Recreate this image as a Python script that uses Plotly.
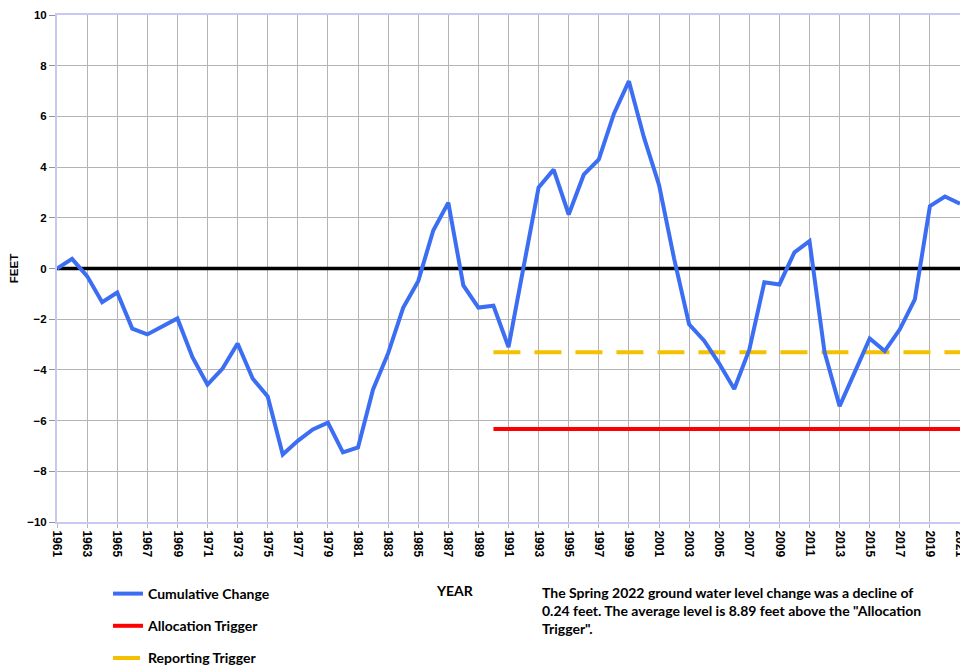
import plotly.graph_objects as go

years = list(range(1961, 2022))
cumulative_change = [
    0.0, 0.38, -0.3, -1.33, -0.95, -2.37, -2.6, -2.3, -1.97, -3.5,
    -4.58, -3.95, -2.96, -4.34, -5.05, -7.34, -6.8, -6.35, -6.08, -7.25,
    -7.06, -4.77, -3.35, -1.55, -0.5, 1.5, 2.6, -0.67, -1.54, -1.47,
    -3.1, 0.05, 3.2, 3.9, 2.13, 3.7, 4.3, 6.1, 7.39, 5.17,
    3.3, 0.4, -2.2, -2.85, -3.75, -4.75, -3.2, -0.54, -0.63, 0.64,
    1.08, -3.3, -5.43, -4.1, -2.76, -3.26, -2.4, -1.22, 2.46, 2.84,
    2.56,
]
trigger_years = [1990, 2021]
allocation_trigger = [-6.33, -6.33]
reporting_trigger = [-3.3, -3.3]
zero_years = [1961, 2021]
zero_line = [0, 0]

FONT = "Liberation Sans"
LFONT = "Lato"

# page body has an 8px offset; margins compensate so plot lands at ~57..960 x 15..522
ML, MT, MR, MB = 49, 7, 16, 152
PW = 968 - ML - MR
PH = 666 - MT - MB

fig = go.Figure()
fig.add_trace(go.Scatter(x=zero_years, y=zero_line, mode="lines",
                         line=dict(color="black", width=3.5), showlegend=False,
                         hoverinfo="skip"))
fig.add_trace(go.Scatter(x=trigger_years, y=reporting_trigger, mode="lines",
                         name="Reporting Trigger", legendgroup="c", legendrank=3,
                         line=dict(color="#f5c000", width=4, dash="27px,14px")))
fig.add_trace(go.Scatter(x=trigger_years, y=allocation_trigger, mode="lines",
                         name="Allocation Trigger", legendgroup="b", legendrank=2,
                         line=dict(color="#ff0000", width=4)))
fig.add_trace(go.Scatter(x=years, y=cumulative_change, mode="lines",
                         name="Cumulative Change", legendgroup="a", legendrank=1,
                         line=dict(color="#3b6ef2", width=4)))

fig.update_layout(
    width=968, height=666,
    paper_bgcolor="white", plot_bgcolor="white",
    margin=dict(l=ML, r=MR, t=MT, b=MB, autoexpand=False),
    font=dict(family=FONT, size=11, color="black"),
    showlegend=True,
    legend=dict(
        x=51 / PW, xanchor="left", y=-56 / PH, yanchor="top",
        orientation="v", traceorder="grouped",
        tracegroupgap=11, itemwidth=30,
        font=dict(family=LFONT, size=14, color="black", weight="bold"),
        bgcolor="rgba(0,0,0,0)",
    ),
    xaxis=dict(
        range=[1961, 2021], tick0=1961, dtick=2, tickangle=90,
        showgrid=True, gridcolor="#b4b4b4", gridwidth=1,
        ticks="outside", ticklen=4, tickcolor="#b4b4c8",
        tickfont=dict(family=FONT, size=12, weight="bold"),
        ticklabeloverflow="allow",
        showline=True, linecolor="#c8c8f0", linewidth=2, mirror=True,
        zeroline=False, automargin=False,
    ),
    yaxis=dict(
        range=[-10, 10], tick0=-10, dtick=2,
        showgrid=True, gridcolor="#b4b4b4", gridwidth=1,
        ticks="outside", ticklen=6, tickcolor="#9090a8",
        tickfont=dict(family=FONT, size=11.5, weight="bold"),
        showline=True, linecolor="#c8c8f0", linewidth=2, mirror=True,
        zeroline=False, automargin=False,
        title=dict(text="FEET", font=dict(family=FONT, size=11.5, weight="bold"), standoff=14),
    ),
)

fig.add_annotation(text="<b>SPRING 2022</b>", xref="paper", yref="paper",
                   x=0.5, y=1, yshift=13, yanchor="middle", showarrow=False,
                   font=dict(family=FONT, size=12, color="black"))
fig.add_annotation(text="<b>YEAR</b>", xref="paper", yref="paper",
                   x=(455 - 57) / PW, y=-(590 - 522) / PH, xanchor="center", yanchor="middle",
                   showarrow=False, font=dict(family=LFONT, size=14, color="black"))
fig.add_annotation(
    text=("<b>The Spring 2022 ground water level change was a decline of<br>"
          "0.24 feet. The average level is 8.89 feet above the \"Allocation<br>"
          "Trigger\".</b>"),
    xref="paper", yref="paper", x=(540 - 57) / PW, y=-(582 - 522) / PH,
    xanchor="left", yanchor="top", align="left", showarrow=False,
    font=dict(family=LFONT, size=14, color="black"))

fig.write_html("out.html")
